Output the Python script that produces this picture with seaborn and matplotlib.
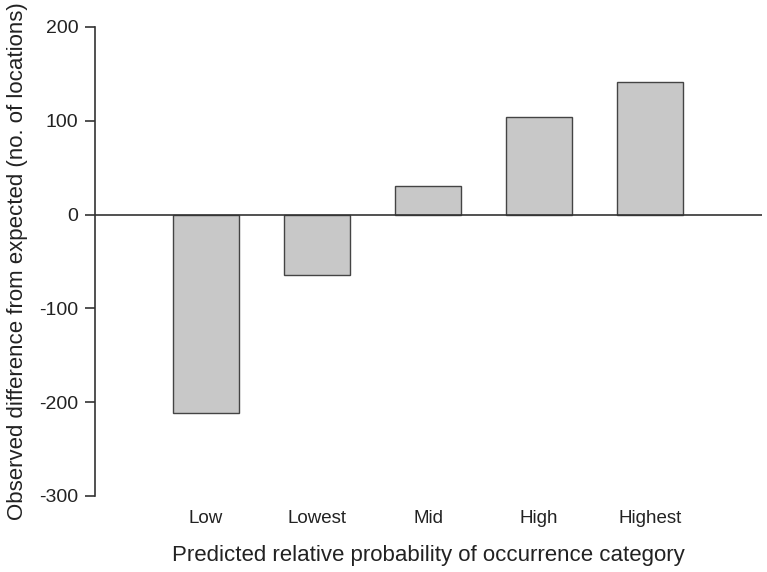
import pandas as pd
import matplotlib.pyplot as plt
import seaborn as sns

# valores
categorias = ["Low", "Lowest", "Mid", "High", "Highest"]
diferenca = [-212, -64, 30, 104, 141]

df = pd.DataFrame({"Categoria": categorias, "Diferenca": diferenca})

sns.set_style("ticks")
plt.rcParams['font.family'] = ['Liberation Sans', 'DejaVu Sans']
plt.rcParams['axes.unicode_minus'] = False

fig, ax = plt.subplots(figsize=(7.67, 5.72), dpi=100)
fig.subplots_adjust(left=0.124, right=0.9935, top=0.953, bottom=0.133)

sns.barplot(data=df, x="Categoria", y="Diferenca", ax=ax, color="#c8c8c8",
            saturation=1, width=0.6, edgecolor="#444444", linewidth=1)

ax.axhline(0, color="#333333", linewidth=1.2, zorder=3)
ax.set_xlim(-1, 5.01)
ax.set_ylim(-300, 200)
ax.set_yticks([-300, -200, -100, 0, 100, 200])

for s in ["top", "right", "bottom"]:
    ax.spines[s].set_visible(False)
ax.spines["left"].set_color("#333333")
ax.spines["left"].set_linewidth(1.2)

ax.tick_params(axis="x", length=0, pad=10, labelsize=13.5, colors="#222222")
ax.tick_params(axis="y", length=7, width=1.2, color="#333333", labelsize=14, labelcolor="#222222", pad=5)

ax.set_xlabel("Predicted relative probability of occurrence category", fontsize=16, color="#222222", labelpad=13)
ax.set_ylabel("Observed difference from expected (no. of locations)", fontsize=16, color="#222222", labelpad=8)

plt.savefig("out.png", dpi=100)
